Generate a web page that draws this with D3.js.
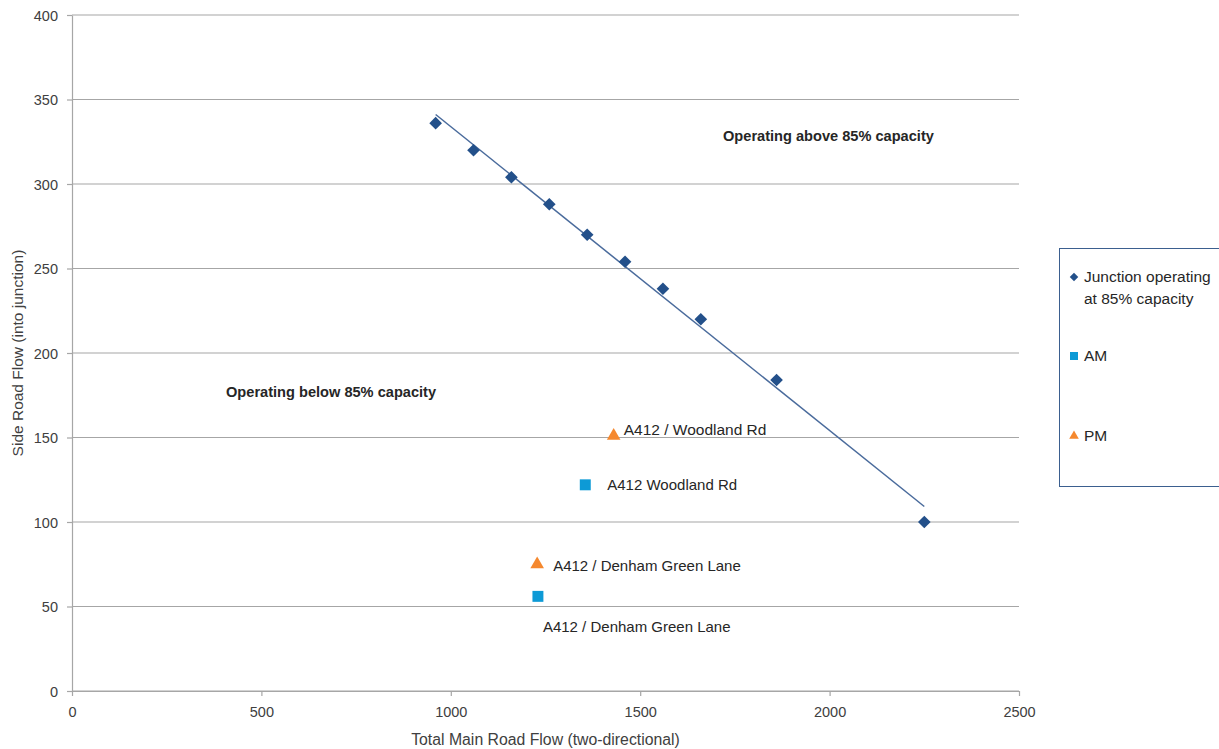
<!DOCTYPE html>
<html><head><meta charset="utf-8">
<script src="https://cdn.jsdelivr.net/npm/d3@7"></script>
<style>body{margin:0;background:#fff;}svg{display:block;font-family:"Liberation Sans",Arial,sans-serif;}</style>
</head><body>
<svg id="chart" width="1219" height="749"></svg>
<script>
const capacityX = [960,1060,1160,1260,1360,1460,1560,1660,1860,2250];
const capacityY = [336,320,304,288,270,254,238,220,184,100];
const amX = [1355,1230];
const amY = [122,56];
const amLabels = ["A412 Woodland Rd","A412 / Denham Green Lane"];
const pmX = [1430,1228];
const pmY = [151,75];
const pmLabels = ["A412 / Woodland Rd","A412 / Denham Green Lane"];
const xTicks = [0,500,1000,1500,2000,2500];
const yTicks = [0,50,100,150,200,250,300,350,400];
const legendNames = ["Junction operating at 85% capacity","AM","PM"];

const svg = d3.select("#chart");
const x = d3.scaleLinear().domain([0,2500]).range([72,1019]);
const y = d3.scaleLinear().domain([0,400]).range([691,15]);
const grid = "#a6a6a6";

// gridlines
svg.append("g").selectAll("line").data(yTicks).join("line")
  .attr("x1",x(0)).attr("x2",x(2500)).attr("y1",d=>y(d)).attr("y2",d=>y(d))
  .attr("stroke",grid).attr("stroke-width",1.2);

// axes
const xAxis = svg.append("g").attr("transform",`translate(0,${y(0)})`)
  .call(d3.axisBottom(x).tickValues(xTicks).tickSize(5).tickSizeOuter(0).tickPadding(11).tickFormat(d3.format("d")));
const yAxis = svg.append("g").attr("transform",`translate(${x(0)},0)`)
  .call(d3.axisLeft(y).tickValues(yTicks).tickSize(5).tickSizeOuter(0).tickPadding(9).tickFormat(d3.format("d")));
[xAxis,yAxis].forEach(a=>{
  a.select(".domain").attr("stroke",grid).attr("stroke-width",1.2);
  a.selectAll(".tick line").attr("stroke",grid).attr("stroke-width",1.2);
  a.selectAll("text").attr("font-size",14.5).attr("fill","#404040").attr("font-family","Liberation Sans, Arial, sans-serif");
});
yAxis.selectAll("text").attr("dy","0.35em");

// axis titles
svg.append("text").attr("x",(x(0)+x(2500))/2).attr("y",745).attr("text-anchor","middle")
  .attr("font-size",15.8).attr("fill","#404040").text("Total Main Road Flow (two-directional)");
svg.append("text").attr("transform",`translate(23,${(y(0)+y(400))/2}) rotate(-90)`).attr("text-anchor","middle")
  .attr("font-size",15.5).attr("fill","#404040").text("Side Road Flow (into junction)");

// regression trendline
const n = capacityX.length;
const mx = d3.mean(capacityX), my = d3.mean(capacityY);
let sxy=0,sxx=0;
for(let i=0;i<n;i++){sxy+=(capacityX[i]-mx)*(capacityY[i]-my);sxx+=(capacityX[i]-mx)**2;}
const slope = sxy/sxx, icpt = my - slope*mx;
const xmin = d3.min(capacityX), xmax = d3.max(capacityX);
svg.append("line").attr("x1",x(xmin)).attr("y1",y(icpt+slope*xmin))
  .attr("x2",x(xmax)).attr("y2",y(icpt+slope*xmax))
  .attr("stroke","#4a6b9c").attr("stroke-width",1.5);

const diamond = d3.symbol().type(d3.symbolSquare).size(80);
const square = d3.symbol().type(d3.symbolSquare).size(120);
const tri = d3.symbol().type(d3.symbolTriangle).size(80);
const cDia = "#23508a", cAM = "#0d9ad6", cPM = "#f5882e";

svg.append("g").selectAll("path").data(capacityX.map((d,i)=>[d,capacityY[i]])).join("path")
  .attr("d",diamond).attr("transform",d=>`translate(${x(d[0])},${y(d[1])}) rotate(45)`).attr("fill",cDia);

svg.append("g").selectAll("path").data(amX.map((d,i)=>[d,amY[i]])).join("path")
  .attr("d",square).attr("transform",d=>`translate(${x(d[0])},${y(d[1])})`).attr("fill",cAM);
svg.append("g").selectAll("path").data(pmX.map((d,i)=>[d,pmY[i]])).join("path")
  .attr("d",tri).attr("transform",d=>`translate(${x(d[0])},${y(d[1])})`).attr("fill",cPM);

// point labels
const lblFont = 15;
svg.append("text").attr("x",x(amX[0])+22).attr("y",y(amY[0])+5).attr("font-size",lblFont).attr("fill","#262626").text(amLabels[0]);
svg.append("text").attr("x",x(amX[1])+5).attr("y",y(amY[1])+36).attr("font-size",lblFont).attr("fill","#262626").text(amLabels[1]);
svg.append("text").attr("x",x(pmX[0])+10).attr("y",y(pmY[0])-1).attr("font-size",15.5).attr("fill","#262626").text(pmLabels[0]);
svg.append("text").attr("x",x(pmX[1])+16).attr("y",y(pmY[1])+7).attr("font-size",lblFont).attr("fill","#262626").text(pmLabels[1]);

// region annotations
svg.append("text").attr("x",723).attr("y",141).attr("font-size",14.6).attr("font-weight","bold").attr("fill","#262626").text("Operating above 85% capacity");
svg.append("text").attr("x",226).attr("y",397).attr("font-size",14.6).attr("font-weight","bold").attr("fill","#262626").text("Operating below 85% capacity");

// legend
const lg = svg.append("g");
const lf = 15.5;
lg.append("rect").attr("x",1059.5).attr("y",248.5).attr("width",170).attr("height",238)
  .attr("fill","#fff").attr("stroke","#3b5f8f").attr("stroke-width",1);
lg.append("path").attr("d",d3.symbol().type(d3.symbolSquare).size(36)).attr("transform","translate(1074,277) rotate(45)").attr("fill",cDia);
lg.append("text").attr("x",1084).attr("y",282).attr("font-size",lf).attr("fill","#262626").text("Junction operating");
lg.append("text").attr("x",1084).attr("y",304).attr("font-size",lf).attr("fill","#262626").text("at 85% capacity");
lg.append("path").attr("d",d3.symbol().type(d3.symbolSquare).size(64)).attr("transform","translate(1074,356)").attr("fill",cAM);
lg.append("text").attr("x",1084).attr("y",361).attr("font-size",lf).attr("fill","#262626").text(legendNames[1]);
lg.append("path").attr("d",d3.symbol().type(d3.symbolTriangle).size(40)).attr("transform","translate(1074,436)").attr("fill",cPM);
lg.append("text").attr("x",1084).attr("y",441).attr("font-size",lf).attr("fill","#262626").text(legendNames[2]);
</script>
</body></html>
